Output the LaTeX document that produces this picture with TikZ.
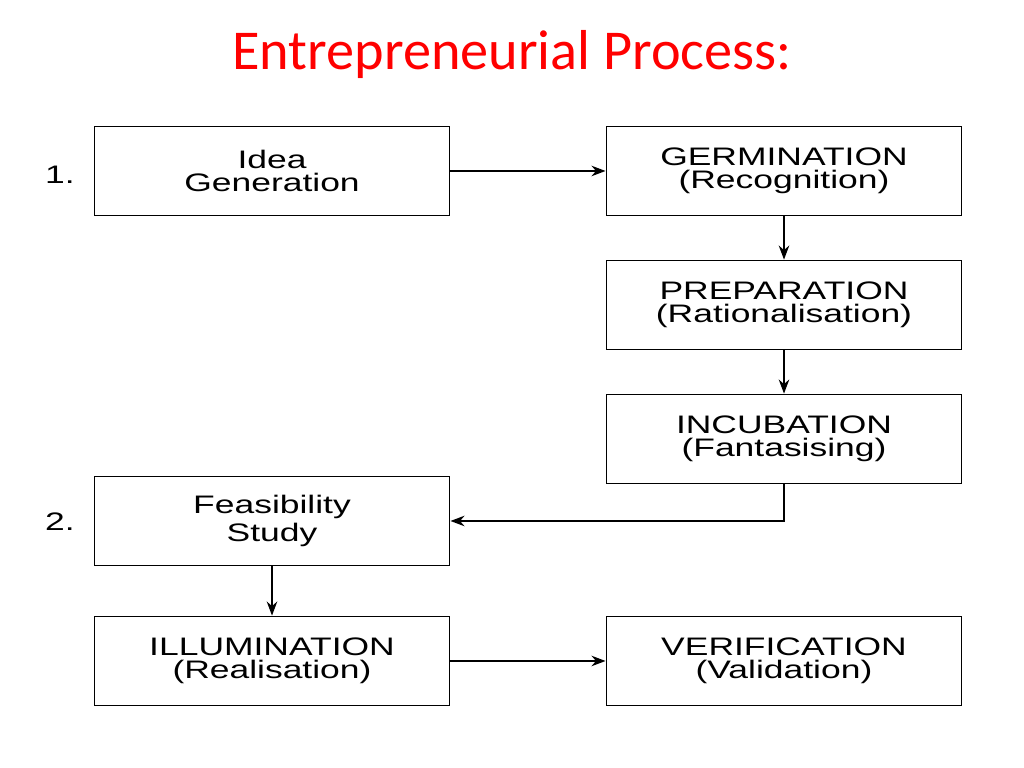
\documentclass[tikz,border=0pt]{standalone}
\usepackage{fontspec}
\setmainfont{Liberation Sans}
\newfontfamily\titlefont{Carlito}
\newfontfamily\boxfont[FakeStretch=1.4]{Liberation Sans}
\usetikzlibrary{arrows.meta,positioning}
\begin{document}
\begin{tikzpicture}[x=0.01cm,y=-0.01cm,
  stage/.style={draw,line width=0.5pt,minimum width=3.55cm,minimum height=0.89cm,
    align=center,font=\boxfont\fontsize{7.2}{6.4}\selectfont,inner sep=0pt},
  flow/.style={-{Stealth[length=4pt,width=3pt]},line width=0.4pt}]
\useasboundingbox (0,0) rectangle (1024,768);
\node at (512,55) [font=\titlefont\fontsize{16}{18}\selectfont,text=red] (title) {Entrepreneurial Process:};
\node at (272,171) [stage] (idea) {Idea\\Generation};
\node at (784,171) [stage] (germ) {GERMINATION\\(Recognition)};
\node at (784,305) [stage] (prep) {PREPARATION\\(Rationalisation)};
\node at (784,439) [stage] (incub) {INCUBATION\\(Fantasising)};
\node at (272,521) [stage] (feas) {Feasibility\\Study};
\node at (272,661) [stage] (illum) {ILLUMINATION\\(Realisation)};
\node at (784,661) [stage] (verif) {VERIFICATION\\(Validation)};
\node at (60,175) [font=\boxfont\fontsize{7.2}{6.4}\selectfont] (one) {1.};
\node at (60,522) [font=\boxfont\fontsize{7.2}{6.4}\selectfont] (two) {2.};
\draw[flow] (idea) -- (germ);
\draw[flow] (germ) -- (prep);
\draw[flow] (prep) -- (incub);
\draw[flow] (incub.south) |- (feas.east);
\draw[flow] (feas) -- (illum);
\draw[flow] (illum) -- (verif);
\end{tikzpicture}
\end{document}
